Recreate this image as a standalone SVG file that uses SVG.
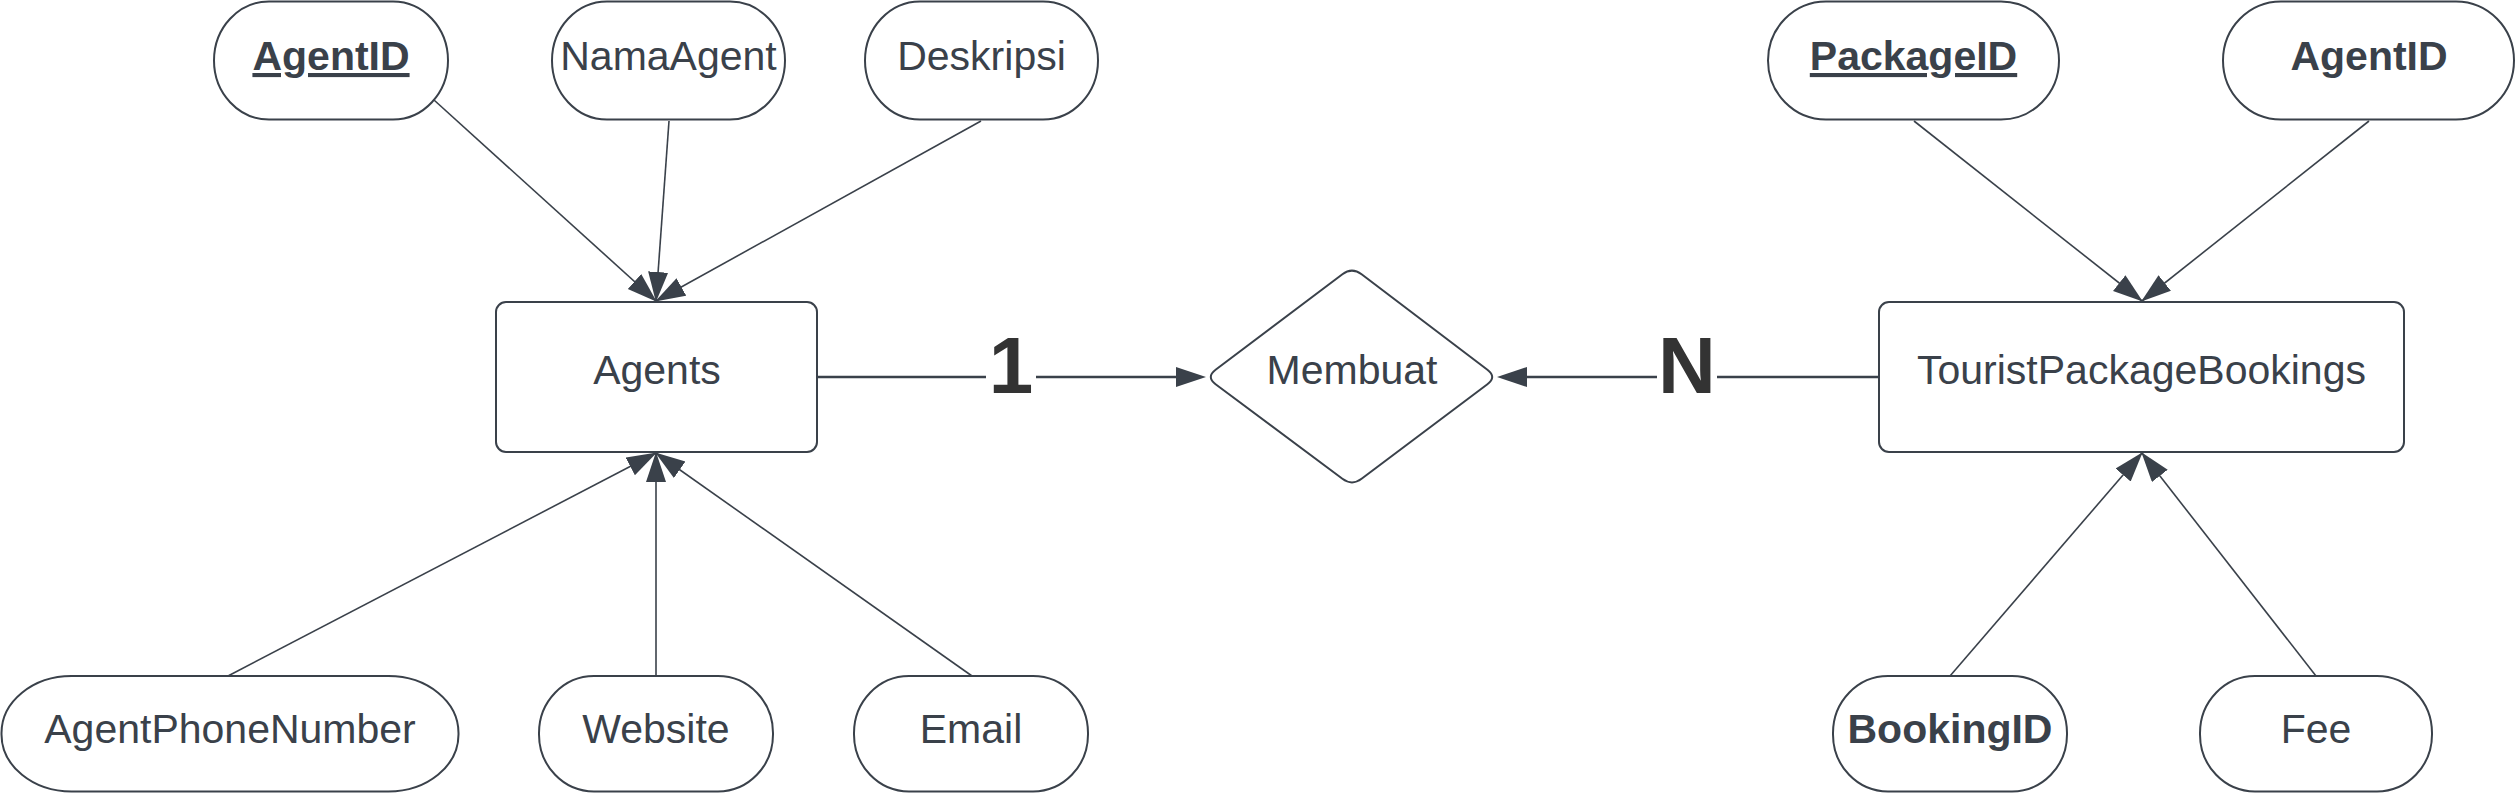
<svg xmlns="http://www.w3.org/2000/svg" width="2516" height="793" viewBox="0 0 2516 793">
<style>
.shape{fill:#ffffff;stroke:#3a414a;stroke-width:2}
.t{font-family:"Liberation Sans",Arial,sans-serif;font-size:41px;fill:#3a414a;text-anchor:middle}
.b{font-weight:bold}
.u{text-decoration:underline}
.attr{fill:none;stroke:#3a414a;stroke-width:1.6}
.rel{fill:none;stroke:#3a414a;stroke-width:2.6}
.card{font-family:"Liberation Sans",Arial,sans-serif;font-size:80px;font-weight:bold;fill:#333333;text-anchor:middle}
</style>
<defs>
<marker id="arrA" markerUnits="userSpaceOnUse" markerWidth="32" markerHeight="22" refX="29" refY="10" orient="auto">
<path d="M0,0 L30,10 L0,20 Z" fill="#3a414a"/>
</marker>
<marker id="arrR" markerUnits="userSpaceOnUse" markerWidth="32" markerHeight="22" refX="22" refY="10" orient="auto">
<path d="M0,0 L30,10 L0,20 Z" fill="#3a414a"/>
</marker>
</defs>
<rect width="2516" height="793" fill="#ffffff"/>
<g id="connectors">
<line class="attr" x1="434" y1="100" x2="656" y2="301" marker-end="url(#arrA)"/>
<line class="attr" x1="669" y1="121" x2="656" y2="301" marker-end="url(#arrA)"/>
<line class="attr" x1="981" y1="121" x2="656" y2="301" marker-end="url(#arrA)"/>
<line class="attr" x1="228" y1="676" x2="656" y2="453" marker-end="url(#arrA)"/>
<line class="attr" x1="656" y1="676" x2="656" y2="453" marker-end="url(#arrA)"/>
<line class="attr" x1="972" y1="676" x2="656" y2="453" marker-end="url(#arrA)"/>
<line class="attr" x1="1914" y1="121" x2="2142" y2="301" marker-end="url(#arrA)"/>
<line class="attr" x1="2369" y1="121" x2="2142" y2="301" marker-end="url(#arrA)"/>
<line class="attr" x1="1950" y1="676" x2="2142" y2="453" marker-end="url(#arrA)"/>
<line class="attr" x1="2316" y1="676" x2="2142" y2="453" marker-end="url(#arrA)"/>
<path class="rel" d="M817,377 H986 M1036,377 H1198" marker-end="url(#arrR)"/>
<path class="rel" d="M1879,377 H1717 M1657,377 H1505" marker-end="url(#arrR)"/>
<text class="card" x="1011" y="393">1</text>
<text class="card" x="1687" y="393">N</text>
</g>
<g id="agents">
<rect class="shape" x="496" y="302" width="321" height="150" rx="10"/>
<text class="t" x="657" y="384">Agents</text>
</g>
<g id="membuat">
<path class="shape" d="M1215.6,369.8 L1342.4,274.2 Q1352,267 1361.6,274.3 L1487.4,369.7 Q1497,377 1487.4,384.2 L1361.6,478.8 Q1352,486 1342.4,478.8 L1215.6,384.2 Q1206,377 1215.6,369.8 Z"/>
<text class="t" x="1352" y="384">Membuat</text>
</g>
<g id="touristpackagebookings">
<rect class="shape" x="1879" y="302" width="525" height="150" rx="10"/>
<text class="t" x="2141.5" y="384">TouristPackageBookings</text>
</g>
<g id="attr-agentid">
<rect class="shape" x="214" y="1.5" width="234" height="118" rx="55" ry="59"/>
<text class="t b u" x="331" y="70">AgentID</text>
</g>
<g id="attr-namaagent">
<rect class="shape" x="552" y="1.5" width="233" height="118" rx="55" ry="59"/>
<text class="t" x="668.5" y="70">NamaAgent</text>
</g>
<g id="attr-deskripsi">
<rect class="shape" x="865" y="1.5" width="233" height="118" rx="55" ry="59"/>
<text class="t" x="981.5" y="70">Deskripsi</text>
</g>
<g id="attr-agentphonenumber">
<rect class="shape" x="1.5" y="676" width="457" height="115.5" rx="70" ry="57"/>
<text class="t" x="230" y="743">AgentPhoneNumber</text>
</g>
<g id="attr-website">
<rect class="shape" x="539" y="676" width="234" height="115.5" rx="55" ry="57"/>
<text class="t" x="656" y="743">Website</text>
</g>
<g id="attr-email">
<rect class="shape" x="854" y="676" width="234" height="115.5" rx="55" ry="57"/>
<text class="t" x="971" y="743">Email</text>
</g>
<g id="attr-packageid">
<rect class="shape" x="1768" y="1.5" width="291" height="118" rx="58" ry="59"/>
<text class="t b u" x="1913.5" y="70">PackageID</text>
</g>
<g id="attr-agentid-fk">
<rect class="shape" x="2223" y="1.5" width="291" height="118" rx="58" ry="59"/>
<text class="t b" x="2369" y="70">AgentID</text>
</g>
<g id="attr-bookingid">
<rect class="shape" x="1833" y="676" width="234" height="115.5" rx="55" ry="57"/>
<text class="t b" x="1950" y="743">BookingID</text>
</g>
<g id="attr-fee">
<rect class="shape" x="2200" y="676" width="232" height="115.5" rx="55" ry="57"/>
<text class="t" x="2316" y="743">Fee</text>
</g>
</svg>
